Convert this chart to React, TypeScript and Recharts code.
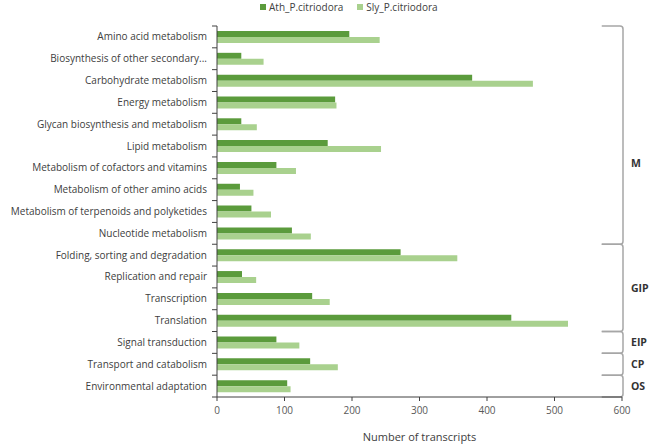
import { BarChart, Bar, XAxis, YAxis, Legend, ReferenceArea } from "recharts"

const categories = [
  "Amino acid metabolism",
  "Biosynthesis of other secondary...",
  "Carbohydrate metabolism",
  "Energy metabolism",
  "Glycan biosynthesis and metabolism",
  "Lipid metabolism",
  "Metabolism of cofactors and vitamins",
  "Metabolism of other amino acids",
  "Metabolism of terpenoids and polyketides",
  "Nucleotide metabolism",
  "Folding, sorting and degradation",
  "Replication and repair",
  "Transcription",
  "Translation",
  "Signal transduction",
  "Transport and catabolism",
  "Environmental adaptation",
]

const athValues = [196, 36, 378, 175, 36, 164, 88, 34, 51, 111, 272, 37, 141, 436, 88, 138, 104]
const slyValues = [241, 69, 468, 177, 59, 243, 117, 54, 80, 139, 356, 58, 167, 520, 122, 179, 109]

const xTicks = [0, 100, 200, 300, 400, 500, 600]

const groupNames = ["M", "GIP", "EIP", "CP", "OS"]
const groupFirst = ["Amino acid metabolism", "Folding, sorting and degradation", "Signal transduction", "Transport and catabolism", "Environmental adaptation"]
const groupLast = ["Nucleotide metabolism", "Translation", "Signal transduction", "Transport and catabolism", "Environmental adaptation"]
const groupLabelAt = [0.63, 0.5, 0.5, 0.5, 0.5]

const data = categories.map((category, i) => ({
  category,
  ath: athValues[i],
  sly: slyValues[i],
}))

const DARK = "#5b9b3c"
const LIGHT = "#a9d18e"
const AXIS = "#404040"

// category ticks sit on the band edges, labels in the middle
function CategoryTick(props: any) {
  const { x, y, payload, index } = props
  const half = payload.offset ?? 0
  const axisX = x + 10
  return (
    <g>
      <line x1={axisX - 5} x2={axisX} y1={y - half} y2={y - half} stroke={AXIS} />
      {index === categories.length - 1 && (
        <line x1={axisX - 5} x2={axisX} y1={y + half} y2={y + half} stroke={AXIS} />
      )}
      <text x={x} y={y} dy="0.35em" textAnchor="end" fontSize={10} fill="#404040">
        {payload.value}
      </text>
    </g>
  )
}

function Bracket(props: any) {
  const { x, y, width, height, name, labelAt } = props
  const r = 3
  const left = x
  const right = x + width + 1
  const top = y
  const bottom = y + height
  const d = `M${left},${top} L${right - r},${top} Q${right},${top} ${right},${top + r} L${right},${bottom - r} Q${right},${bottom} ${right - r},${bottom} L${left},${bottom}`
  return (
    <g>
      <path d={d} fill="none" stroke="#a6a6a6" strokeWidth={1.5} />
      <text x={right + 8} y={top + height * labelAt} dy="0.35em" fontSize={10.5} fontWeight="bold" fill="#333">
        {name}
      </text>
    </g>
  )
}

function LegendContent() {
  const items = [
    { label: "Ath_P.citriodora", color: DARK },
    { label: "Sly_P.citriodora", color: LIGHT },
  ]
  return (
    <div style={{ display: "flex", gap: 14, fontSize: 10, color: "#404040", lineHeight: "12px" }}>
      {items.map((it) => (
        <div key={it.label} style={{ display: "flex", alignItems: "center", gap: 3 }}>
          <span style={{ width: 6, height: 6, background: it.color, display: "inline-block" }} />
          <span>{it.label}</span>
        </div>
      ))}
    </div>
  )
}

export default function App() {
  return (
    <div style={{ position: "absolute", left: 0, top: 0, fontFamily: "'Open Sans', sans-serif", background: "#fff" }}>
      <BarChart
        width={655}
        height={446}
        data={data}
        layout="vertical"
        margin={{ top: 26, right: 33, bottom: 3, left: 0 }}
        barSize={6}
        barGap={0}
      >
        <XAxis
          type="number"
          domain={[0, 600]}
          ticks={xTicks}
          height={46}
          tickSize={4}
          tickMargin={6}
          stroke={AXIS}
          tick={{ fontSize: 10, fill: "#595959" }}
          label={{ value: "Number of transcripts", position: "insideBottom", offset: 2, fontSize: 11, fill: "#404040" }}
        />
        <YAxis
          type="category"
          dataKey="category"
          width={217}
          tickSize={0}
          tickMargin={10}
          tickLine={false}
          interval={0}
          stroke={AXIS}
          tick={<CategoryTick />}
        />
        <Legend
          verticalAlign="middle"
          align="center"
          layout="horizontal"
          wrapperStyle={{ top: 1, left: 260, width: "auto" }}
          content={() => <LegendContent />}
        />
        <Bar dataKey="ath" name="Ath_P.citriodora" fill={DARK} isAnimationActive={false} />
        <Bar dataKey="sly" name="Sly_P.citriodora" fill={LIGHT} isAnimationActive={false} />
        {groupNames.map((name, i) => (
          <ReferenceArea
            key={name}
            x1={570}
            x2={600}
            y1={groupFirst[i]}
            y2={groupLast[i]}
            ifOverflow="visible"
            shape={(p: any) => <Bracket {...p} name={name} labelAt={groupLabelAt[i]} />}
          />
        ))}
      </BarChart>
    </div>
  )
}
